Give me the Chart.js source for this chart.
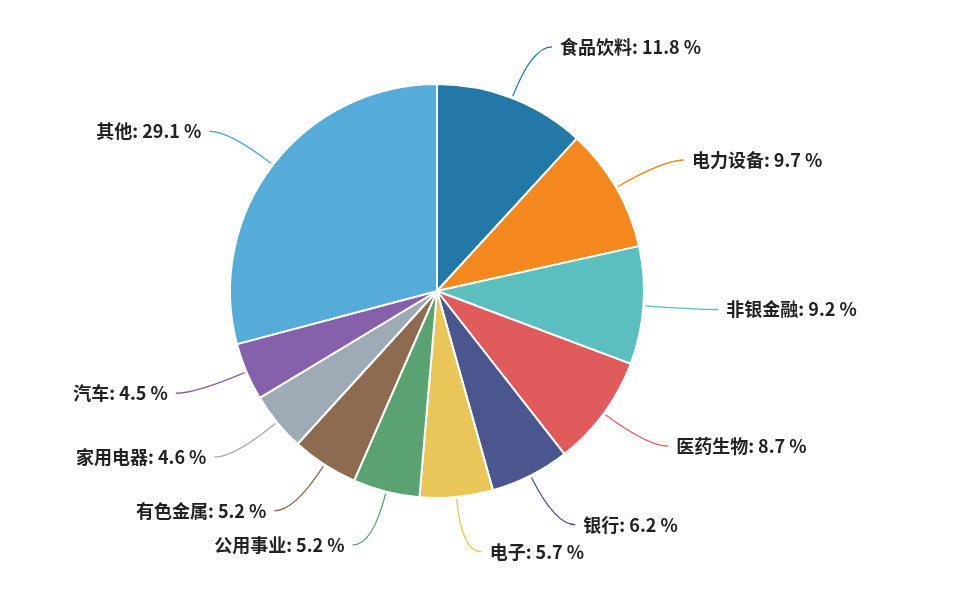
<!DOCTYPE html>
<html><head><meta charset="utf-8">
<script src="https://cdn.jsdelivr.net/npm/chart.js@4"></script>
<style>html,body{margin:0;background:#fff}#w{width:960px;height:596px}</style>
</head><body><div id="w"><canvas id="c"></canvas></div>
<script>
const categories=["食品饮料","电力设备","非银金融","医药生物","银行","电子","公用事业","有色金属","家用电器","汽车","其他"];
const values=[11.8,9.7,9.2,8.7,6.2,5.7,5.2,5.2,4.6,4.5,29.1];
const colors=["#2378a8","#f5881f","#5bbfc0","#e05c5c","#4a568d","#e8c65a","#5aa271","#8d6b51","#9eaab5","#8560ab","#55acd9"];
const labelPlugin={id:"lbl",afterDatasetsDraw(chart){
 const ctx=chart.ctx;const meta=chart.getDatasetMeta(0);
 ctx.save();ctx.font="bold 18px 'Noto Sans CJK SC'";ctx.textBaseline="middle";
 meta.data.forEach((arc,i)=>{
  const a=(arc.startAngle+arc.endAngle)/2,r=arc.outerRadius,cx=arc.x,cy=arc.y;
  const p1=[cx+Math.cos(a)*(r+2),cy+Math.sin(a)*(r+2)];
  const p2=[cx+Math.cos(a)*(r+55),cy+Math.sin(a)*(r+55)];
  const right=Math.cos(a)>=0;const p3=[p2[0]+(right?20:-20),p2[1]];
  ctx.strokeStyle=colors[i];ctx.lineWidth=1.3;ctx.beginPath();ctx.moveTo(...p1);
  ctx.quadraticCurveTo(p2[0],p2[1],p3[0],p3[1]);ctx.stroke();
  ctx.fillStyle="#222";ctx.textAlign=right?"left":"right";
  ctx.fillText(categories[i]+": "+values[i]+" %",p3[0]+(right?8:-8),p3[1]);
 });ctx.restore();}};
new Chart(document.getElementById("c"),{type:"pie",
 data:{labels:categories,datasets:[{data:values,backgroundColor:colors,borderColor:"#fff",borderWidth:2}]},
 options:{responsive:true,maintainAspectRatio:false,animation:false,
  layout:{padding:{left:0,right:86,top:83,bottom:97}},
  plugins:{legend:{display:false},tooltip:{enabled:false}}},
 plugins:[labelPlugin]});
</script></body></html>
